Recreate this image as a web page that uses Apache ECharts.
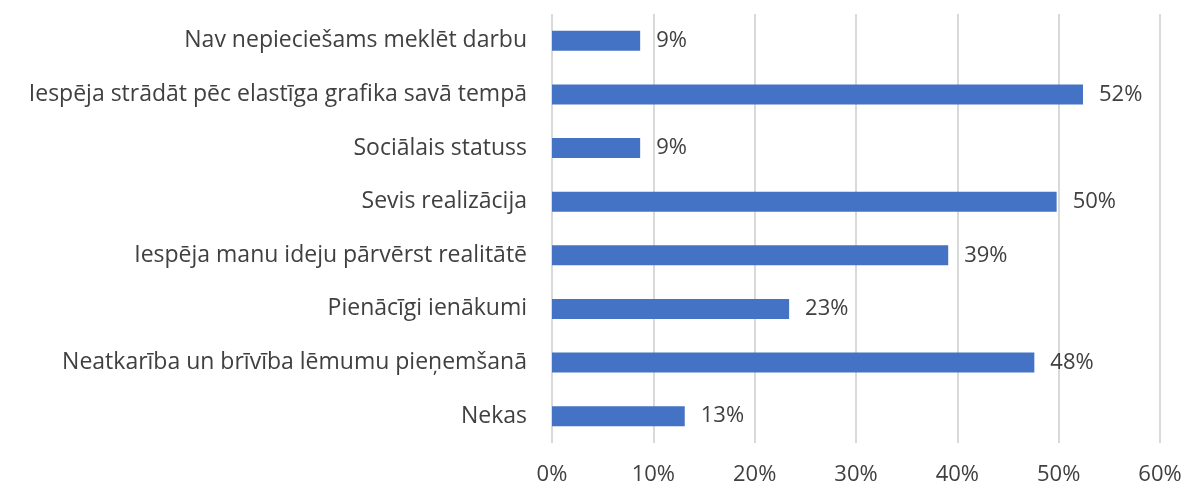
<!DOCTYPE html>
<html>
<head>
<meta charset="utf-8">
<script src="https://cdn.jsdelivr.net/npm/echarts@6/dist/echarts.min.js"></script>
<style>
  html, body { margin: 0; padding: 0; background: #fff; }
  #chart { width: 1186px; height: 489px; }
</style>
</head>
<body>
<div id="chart"></div>
<script>
// top to bottom as shown
const categories = [
  'Nav nepieciešams meklēt darbu',
  'Iespēja strādāt pēc elastīga grafika savā tempā',
  'Sociālais statuss',
  'Sevis realizācija',
  'Iespēja manu ideju pārvērst realitātē',
  'Pienācīgi ienākumi',
  'Neatkarība un brīvība lēmumu pieņemšanā',
  'Nekas'
]
const values = [8.7, 52.4, 8.7, 49.8, 39.1, 23.4, 47.6, 13.1]
const xTicks = [0, 10, 20, 30, 40, 50, 60]

const chart = echarts.init(document.getElementById('chart'))
const font = '"Open Sans", sans-serif'

const option = {
  animation: false,
  grid: {
    left: 552,
    right: 26,
    top: 14,
    bottom: 46,
    containLabel: false,
  },
  xAxis: {
    type: 'value',
    min: xTicks[0],
    max: xTicks[xTicks.length - 1],
    interval: 10,
    axisLine: { show: false },
    axisTick: { show: false },
    axisLabel: {
      color: '#404040',
      fontSize: 22,
      fontFamily: font,
      margin: 21,
      formatter: (v) => v + '%',
    },
    splitLine: {
      show: true,
      lineStyle: { color: '#d9d9d9', width: 2 },
    },
  },
  yAxis: {
    type: 'category',
    inverse: true,
    data: categories,
    axisLine: { show: false },
    axisTick: { show: false },
    axisLabel: {
      color: '#404040',
      fontSize: 23,
      fontFamily: font,
      margin: 25,
    },
  },
  series: [
    {
      type: 'bar',
      data: values,
      barWidth: 20,
      itemStyle: { color: '#4472c4' },
      label: {
        show: true,
        position: 'right',
        distance: 16,
        color: '#404040',
        fontSize: 22,
        fontFamily: font,
        formatter: (p) => Math.round(p.value) + '%',
      },
    },
  ],
}

option && chart.setOption(option)
</script>
</body>
</html>
